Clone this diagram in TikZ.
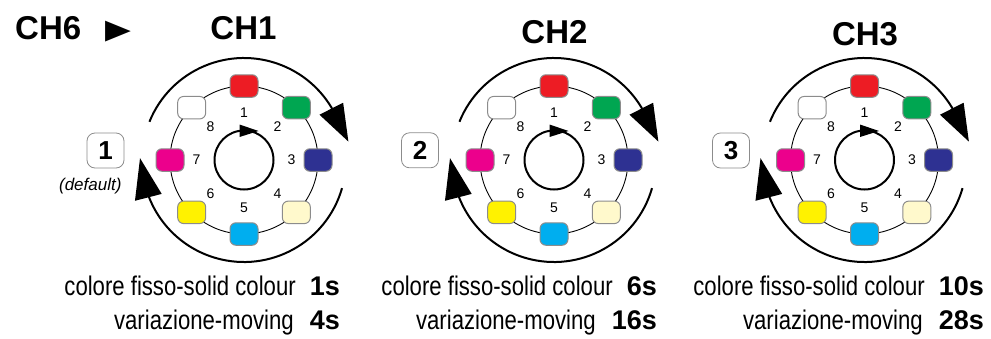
\documentclass[tikz,border=0pt]{standalone}
\usepackage{fontspec}
\setmainfont{Liberation Sans}
\newfontfamily\symbolfont{DejaVu Sans}

\definecolor{lred}{HTML}{ED1C24}
\definecolor{lgreen}{HTML}{00A651}
\definecolor{lnavy}{HTML}{2E3192}
\definecolor{lcream}{HTML}{FFF9CC}
\definecolor{lcyan}{HTML}{00AEEF}
\definecolor{lyellow}{HTML}{FFF200}
\definecolor{lmagenta}{HTML}{EC008C}
\definecolor{rimgray}{HTML}{8C8C8C}

\newcommand{\narrowtext}[1]{\scalebox{0.82}[1]{#1}}

\begin{document}
\begin{tikzpicture}[x=1pt, y=-1pt,
  lamp/.style={draw=rimgray, line width=1pt, rounded corners=6pt,
    minimum width=28pt, minimum height=22.5pt, inner sep=0pt},
  progbox/.style={draw=rimgray, line width=0.8pt, rounded corners=8pt,
    minimum width=37pt, minimum height=35pt, inner sep=0pt,
    font=\fontsize{26}{26}\selectfont\bfseries},
  heading/.style={anchor=base, inner sep=0pt,
    font=\fontsize{33}{33}\selectfont\bfseries},
  stepnum/.style={inner sep=0pt, font=\fontsize{14}{14}\selectfont},
  timing/.style={anchor=base east, inner sep=0pt,
    font=\fontsize{27}{27}\selectfont},
  thinring/.style={line width=0.9pt},
  wheel/.style={line width=2pt},
]
\useasboundingbox (0,0) rectangle (991,338);

% channel headings
\node[heading, anchor=base west] (ch6) at (15,39) {CH6};
\node[anchor=base, inner sep=0pt, font=\fontsize{42}{42}\selectfont] (pointer) at (118.5,42.3) {\scalebox{0.8}[1]{\symbolfont ►}};
\node[heading] (ch1) at (243.5,39) {CH1};
\node[heading] (ch2) at (554.5,43) {CH2};
\node[heading] (ch3) at (865,45) {CH3};

% the three colour wheels (angles measured clockwise on screen)
\foreach \cx/\n in {244/1, 554/2, 864.5/3} {
  \begin{scope}[shift={(\cx,160)}]
    \draw[thinring] (0,0) circle[radius=74];
    \node[lamp, fill=lred]     (w\n-l1) at (-90:74) {};
    \node[lamp, fill=lgreen]   (w\n-l2) at (-45:74) {};
    \node[lamp, fill=lnavy]    (w\n-l3) at (0:74)   {};
    \node[lamp, fill=lcream]   (w\n-l4) at (45:74)  {};
    \node[lamp, fill=lcyan]    (w\n-l5) at (90:74)  {};
    \node[lamp, fill=lyellow]  (w\n-l6) at (135:74) {};
    \node[lamp, fill=lmagenta] (w\n-l7) at (180:74) {};
    \node[lamp, fill=white]    (w\n-l8) at (225:74) {};
    \foreach \k/\a in {1/-90, 2/-45, 3/0, 4/45, 5/90, 6/135, 7/180, 8/225}
      \node[stepnum] (w\n-s\k) at (\a:47.5) {\k};
    % inner rotation marker
    \draw[wheel] (0,0) circle[radius=29.5];
    \fill (-4.5,-35.5) -- (-4.5,-23) -- (14.5,-29) -- cycle;
    % outer sequence arrows
    \draw[wheel] (-158:102) arc[start angle=-158, end angle=-26, radius=102];
    \fill (-31:88) -- (-30:114.5) -- (-10:106) -- cycle;
    \draw[wheel] (16:102) arc[start angle=16, end angle=163, radius=102];
    \fill (157.6:89) -- (159.5:116.4) -- (181:104) -- cycle;
  \end{scope}
}

% program selectors
\node[progbox] (p1) at (105.5,150.5) {1};
\node[anchor=base, inner sep=0pt, font=\fontsize{17}{17}\selectfont\itshape] (def) at (90.3,190) {(default)};
\node[progbox] (p2) at (420,150.3) {2};
\node[progbox] (p3) at (731,150.5) {3};

% timings
\node[timing] (t1a) at (340,295) {\narrowtext{colore fisso-solid colour}\hspace{14pt}\textbf{1s}};
\node[timing] (t1b) at (340,329) {\narrowtext{variazione-moving}\hspace{16pt}\textbf{4s}};
\node[timing] (t2a) at (657,295) {\narrowtext{colore fisso-solid colour}\hspace{14pt}\textbf{6s}};
\node[timing] (t2b) at (657,329) {\narrowtext{variazione-moving}\hspace{16pt}\textbf{16s}};
\node[timing] (t3a) at (984,295) {\narrowtext{colore fisso-solid colour}\hspace{14pt}\textbf{10s}};
\node[timing] (t3b) at (984,329) {\narrowtext{variazione-moving}\hspace{16pt}\textbf{28s}};
\end{tikzpicture}
\end{document}
